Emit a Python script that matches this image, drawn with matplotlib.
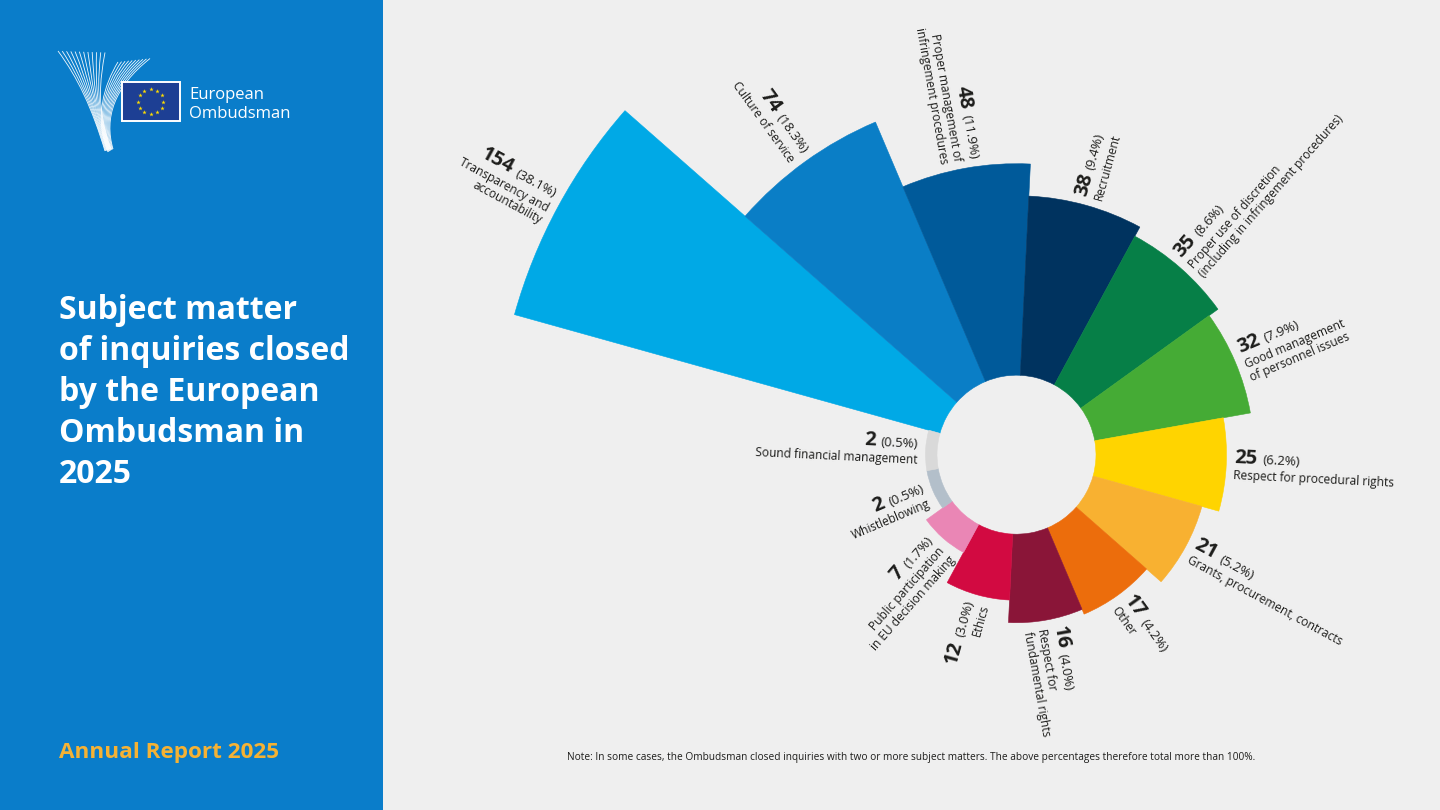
import numpy as np
import matplotlib
matplotlib.use("Agg")
import matplotlib.pyplot as plt
from matplotlib.transforms import Affine2D
from matplotlib.patches import Rectangle
from matplotlib.path import Path
from matplotlib.patches import PathPatch

plt.rcParams['font.family'] = ['Open Sans', 'DejaVu Sans']

# ---------------- data ----------------
categories = [
    "Transparency and\naccountability",
    "Culture of service",
    "Proper management of\ninfringement procedures",
    "Recruitment",
    "Proper use of discretion\n(including in infringement procedures)",
    "Good management\nof personnel issues",
    "Respect for procedural rights",
    "Grants, procurement, contracts",
    "Other",
    "Respect for\nfundamental rights",
    "Ethics",
    "Public participation\nin EU decision making",
    "Whistleblowing",
    "Sound financial management",
]
counts = [154, 74, 48, 38, 35, 32, 25, 21, 17, 16, 12, 7, 2, 2]
shares = ["38.1%", "18.3%", "11.9%", "9.4%", "8.6%", "7.9%", "6.2%",
          "5.2%", "4.2%", "4.0%", "3.0%", "1.7%", "0.5%", "0.5%"]
colors = ["#00a9e6", "#0a7ec6", "#005a9a", "#00335f", "#067f47", "#45ab35",
          "#ffd400", "#f8b131", "#ec6d0c", "#8a1538", "#d20a41", "#ea86b5",
          "#b3bfca", "#d9d9d9"]

title_lines = ["Subject matter", "of inquiries closed", "by the European",
               "Ombudsman in", "2025"]
footer = "Annual Report 2025"
note = ("Note: In some cases, the Ombudsman closed inquiries with two or more subject "
        "matters. The above percentages therefore total more than 100%.")

# ---------------- layout / style ----------------
W, H = 1440, 810
BG = "#efefef"
PANEL = "#0a7dca"
TXT = "#1d1d1b"
K = 42.0            # px per sqrt(count)
RMAX = 170.0
HOLE_V = (79.5 / K) ** 2
MIN_V = (91.0 / K) ** 2
START_DEG = 151.55
GAP = 8.0
D1, D2 = 16.0, 14.0
NUM_KW = dict(fontsize=14.5, fontweight='bold', color=TXT)
PCT_KW = dict(fontsize=9.5, color=TXT)
DESC_KW = dict(fontsize=8.6, color=TXT)

fig = plt.figure(figsize=(W / 100, H / 100), dpi=100, facecolor=BG)

# overlay for panel, logo, texts (pixel coords, y down)
bg = fig.add_axes([0, 0, 1, 1])
bg.set_xlim(0, W)
bg.set_ylim(H, 0)
bg.axis('off')
bg.set_zorder(0)
bg.add_patch(Rectangle((0, 0), 383, H, color=PANEL, lw=0))

# logo: stylised wings made of fine parallel lines
CUB = [Path.MOVETO, Path.CURVE4, Path.CURVE4, Path.CURVE4]
for t in np.linspace(0, 1, 12):
    verts = [(58 + 47 * t, 51 + 1.5 * t), (78 + 22 * t, 78 + 2 * t),
             (92 + 4 * t, 108), (105 + 6 * t, 151 - 2 * t)]
    bg.add_patch(PathPatch(Path(verts, CUB), fill=False, ec='white', lw=0.6, alpha=0.95))
for t in np.linspace(0, 1, 10):
    verts = [(118 + 32 * t, 62 - 3.5 * t), (104 + 10 * t, 85 + 2 * t),
             (94 + 10 * t, 118), (108 + 5 * t, 152 - 3 * t)]
    bg.add_patch(PathPatch(Path(verts, CUB), fill=False, ec='white', lw=0.6, alpha=0.95))
bg.add_patch(Rectangle((121.5, 82), 58, 39, fc='#1d3f94', ec='white', lw=1.4, zorder=3))
ang = np.linspace(0, 2 * np.pi, 13)[:-1]
bg.scatter(150.7 + 12.5 * np.cos(ang), 101.5 + 12.5 * np.sin(ang), marker='*', s=11,
           color='#ffdd00', lw=0, zorder=4)
bg.text(189, 99, "European", color='white', fontsize=12, va='baseline', ha='left')
bg.text(189, 118, "Ombudsman", color='white', fontsize=12, va='baseline', ha='left')

for i, line in enumerate(title_lines):
    bg.text(59, 319 + 41 * i, line, color='white', fontsize=23, fontweight='bold',
            va='baseline', ha='left')
bg.text(59, 758, footer, color='#f5b234', fontsize=16.2, fontweight='bold',
        va='baseline', ha='left')
bg.text(567, 760, note, color=TXT, fontsize=7.25, va='baseline', ha='left')

# ---------------- polar chart ----------------
R_px = K * np.sqrt(RMAX)
cx, cy = 1016.5, H - 454.7
ax = fig.add_axes([(cx - R_px) / W, (cy - R_px) / H, 2 * R_px / W, 2 * R_px / H],
                  projection='polar')
ax.set_zorder(1)
ax.set_facecolor('none')
ax.set_rscale('function', functions=(lambda r: np.sqrt(np.clip(r, 0, None)),
                                     lambda r: np.square(r)))
n = len(counts)
step = 2 * np.pi / n
theta = np.deg2rad(START_DEG) - step * np.arange(n)
vals = np.array(counts, dtype=float)
top = np.maximum(vals, MIN_V)
ax.bar(theta, top - HOLE_V, width=step, bottom=HOLE_V, color=colors,
       edgecolor=colors, linewidth=0.4, align='center')
ax.set_rlim(0, RMAX)
ax.axis('off')

# ---------------- labels ----------------
fig.canvas.draw()
renderer = fig.canvas.get_renderer()


def text_width(s, **kw):
    t = fig.text(0, 0, s, **kw)
    w = t.get_window_extent(renderer).width
    t.remove()
    return w


C = ax.transData.transform((0.0, 0.0))
for i in range(n):
    P = ax.transData.transform((theta[i], top[i]))
    d = (P - C) / np.linalg.norm(P - C)
    A = P + GAP * d
    deg = np.degrees(np.arctan2(d[1], d[0]))
    right = -90 < deg <= 90
    rot = deg if right else deg - 180
    if rot <= -180:
        rot += 360
    T = Affine2D().rotate_deg(rot).translate(A[0], A[1])
    lines = categories[i].split("\n")
    y0 = 2.0 + 4.0 * (len(lines) - 1)
    num = str(counts[i])
    pct = "(" + shares[i] + ")"
    common = dict(transform=T, rotation=rot, rotation_mode='anchor', va='baseline')
    if right:
        wn = text_width(num, **NUM_KW)
        fig.text(0, y0, num, ha='left', **common, **NUM_KW)
        fig.text(wn + 5, y0, pct, ha='left', **common, **PCT_KW)
        for j, line in enumerate(lines):
            fig.text(0, y0 - D1 - j * D2, line, ha='left', **common, **DESC_KW)
    else:
        wp = text_width(pct, **PCT_KW)
        fig.text(0, y0, pct, ha='right', **common, **PCT_KW)
        fig.text(-(wp + 5), y0, num, ha='right', **common, **NUM_KW)
        for j, line in enumerate(lines):
            fig.text(0, y0 - D1 - j * D2, line, ha='right', **common, **DESC_KW)

fig.savefig("out.png", dpi=100, facecolor=BG)
